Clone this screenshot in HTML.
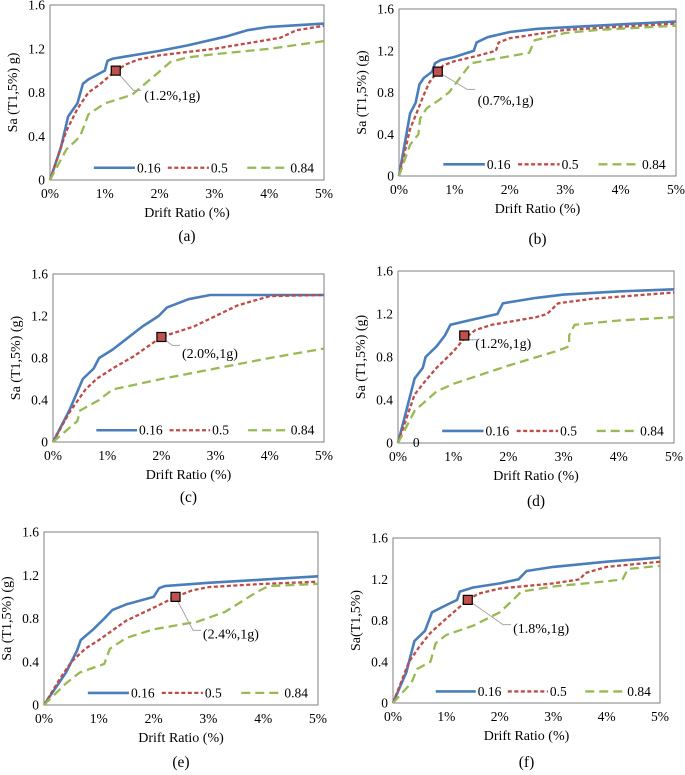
<!DOCTYPE html>
<html><head><meta charset="utf-8"><style>
body{margin:0;background:#fff;}
svg{display:block;}
svg text{font-family:"Liberation Serif","Times New Roman","DejaVu Serif",serif;}
</style></head><body>
<svg id="fig" width="685" height="775"></svg>
<script>
const ticksX=["0%","1%","2%","3%","4%","5%"];
const ticksY=[0,0.4,0.8,1.2,1.6];
const tickYLabels=["0","0.4","0.8","1.2","1.6"];
const legendLabels=["0.16","0.5","0.84"];

const a16=[[0,0],[0.2,0.3],[0.33,0.58],[0.4,0.63],[0.5,0.7],[0.6,0.88],[0.7,0.92],[1.0,1.0],[1.05,1.09],[1.15,1.11],[2.0,1.18],[2.5,1.23],[3.2,1.31],[3.6,1.37],[4.0,1.4],[5,1.43]];
const a50=[[0,0],[0.3,0.45],[0.5,0.65],[0.7,0.8],[0.9,0.87],[1.2,1.0],[1.4,1.06],[1.6,1.1],[2,1.14],[3,1.2],[4.2,1.3],[4.5,1.37],[5,1.41]];
const a84=[[0,0],[0.3,0.28],[0.45,0.35],[0.55,0.4],[0.7,0.6],[1.0,0.7],[1.5,0.78],[1.9,0.95],[2.2,1.08],[2.5,1.12],[3,1.15],[4,1.2],[5,1.27]];
const b16=[[0,0],[0.2,0.6],[0.3,0.7],[0.37,0.88],[0.45,0.94],[0.6,1.0],[0.65,1.08],[0.75,1.11],[1.0,1.14],[1.35,1.2],[1.4,1.28],[1.6,1.33],[2.0,1.38],[2.5,1.41],[5,1.48]];
const b50=[[0,0],[0.2,0.45],[0.3,0.58],[0.45,0.78],[0.55,0.9],[0.7,1.0],[0.8,1.06],[1.0,1.1],[1.4,1.15],[1.75,1.2],[1.8,1.28],[2.0,1.32],[3,1.4],[5,1.46]];
const b84=[[0,0],[0.2,0.3],[0.35,0.4],[0.38,0.55],[0.5,0.65],[0.7,0.72],[0.9,0.8],[1.3,1.08],[1.8,1.13],[2.35,1.18],[2.45,1.3],[3,1.37],[3.6,1.4],[5,1.44]];
const c16=[[0,0],[0.3,0.3],[0.55,0.6],[0.75,0.7],[0.85,0.8],[1.1,0.88],[1.4,1.0],[1.65,1.1],[1.95,1.2],[2.1,1.28],[2.5,1.36],[2.9,1.4],[5,1.4]];
const c50=[[0,0],[0.3,0.28],[0.6,0.5],[0.8,0.6],[1.1,0.7],[1.5,0.82],[2.0,1.0],[2.6,1.1],[3.0,1.2],[3.4,1.3],[4.0,1.39],[5,1.4]];
const c84=[[0,0],[0.45,0.2],[0.5,0.3],[0.85,0.4],[1.1,0.5],[2,0.6],[3,0.7],[4,0.8],[5,0.89]];
const d16=[[0,0],[0.3,0.6],[0.45,0.7],[0.5,0.8],[0.7,0.9],[0.85,1.0],[0.95,1.1],[1.2,1.13],[1.8,1.2],[1.9,1.3],[2.5,1.35],[3,1.38],[4,1.41],[5,1.43]];
const d50=[[0,0],[0.3,0.45],[0.5,0.58],[0.7,0.7],[1.0,0.85],[1.2,0.97],[1.4,1.05],[1.7,1.1],[2.5,1.17],[2.7,1.2],[2.9,1.3],[3.5,1.34],[4.5,1.38],[5,1.4]];
const d84=[[0,0],[0.3,0.3],[0.7,0.48],[1,0.55],[2,0.72],[2.9,0.86],[3.1,0.9],[3.1,1.0],[3.2,1.1],[4,1.14],[5,1.17]];
const e16=[[0,0],[0.4,0.3],[0.6,0.5],[0.67,0.6],[0.9,0.7],[1.1,0.8],[1.25,0.88],[1.5,0.93],[2.0,1.0],[2.1,1.08],[2.2,1.1],[3,1.13],[4,1.16],[5,1.19]];
const e50=[[0,0],[0.3,0.25],[0.5,0.4],[0.75,0.52],[1.0,0.6],[1.5,0.78],[2.0,0.9],[2.4,1.0],[2.7,1.06],[3,1.09],[4,1.12],[5,1.14]];
const e84=[[0,0],[0.4,0.2],[0.65,0.3],[1.1,0.38],[1.2,0.52],[1.5,0.62],[2,0.7],[2.8,0.77],[3.3,0.86],[3.9,1.05],[4.1,1.1],[5,1.12]];
const f16=[[0,0],[0.25,0.3],[0.4,0.6],[0.6,0.7],[0.73,0.88],[1.0,0.95],[1.2,1.0],[1.25,1.08],[1.5,1.12],[2,1.16],[2.35,1.2],[2.5,1.28],[3,1.32],[4,1.37],[5,1.41]];
const f50=[[0,0],[0.3,0.4],[0.5,0.55],[0.7,0.68],[1.0,0.82],[1.4,1.0],[1.6,1.06],[2.0,1.11],[3,1.16],[3.5,1.2],[3.6,1.26],[4,1.32],[5,1.37]];
const f84=[[0,0],[0.35,0.2],[0.45,0.33],[0.7,0.4],[0.8,0.58],[1.0,0.66],[1.5,0.75],[2,0.88],[2.25,1.0],[2.4,1.08],[3,1.13],[4,1.18],[4.3,1.2],[4.4,1.3],[5,1.33]];
const markerLabels=["(1.2%,1g)","(0.7%,1g)","(2.0%,1g)","(1.2%,1g)","(2.4%,1g)","(1.8%,1g)"];
const markerX=[1.2,0.7,2.0,1.2,2.4,1.4];
const calloutEnd=[[1.52,0.82],[1.23,0.83],[2.2,0.92],[1.3,0.96],[2.72,0.69],[2.06,0.76]];
const labelPos=[[1.72,0.77],[1.42,0.72],[2.38,0.84],[1.4,0.92],[2.9,0.65],[2.25,0.72]];

const panels=[
 {id:"a",x0:50,x5:324,yT:5,yB:180,cap:241,yt:"Sa (T1,5%) g)",s:[a16,a50,a84]},
 {id:"b",x0:399,x5:676,yT:9,yB:176,cap:244,yt:"Sa (T1,5%) (g)",s:[b16,b50,b84]},
 {id:"c",x0:53,x5:324,yT:274,yB:442,cap:502,yt:"Sa (T1,5%) (g)",s:[c16,c50,c84]},
 {id:"d",x0:398,x5:674,yT:271,yB:443,cap:506,yt:"Sa (T1,5%) (g)",s:[d16,d50,d84]},
 {id:"e",x0:44,x5:318,yT:532,yB:705,cap:767,yt:"Sa (T1,5%) (g)",s:[e16,e50,e84]},
 {id:"f",x0:393,x5:660,yT:538,yB:703,cap:767,yt:"Sa(T1,5%)",s:[f16,f50,f84]}
];
const colors=["#4a7ebb","#be4b48","#98b954"];
const dashes=["","4 2.5","9 5"];
const FONT='"Liberation Serif","Times New Roman","DejaVu Serif",serif';
const NS="http://www.w3.org/2000/svg";
const svg=document.getElementById("fig");
function mk(tag,attrs,parent,text){const e=document.createElementNS(NS,tag);for(const k in attrs)e.setAttribute(k,attrs[k]);if(text!==undefined){e.setAttribute("font-family",FONT);e.textContent=text;}parent.appendChild(e);return e;}

panels.forEach((p,pi)=>{
 const sx=v=>p.x0+(p.x5-p.x0)*v/5;
 const sy=v=>p.yB-(p.yB-p.yT)*v/1.6;
 const g=mk("g",{},svg);
 
 
 const fr=mk("rect",{x:p.x0,y:p.yT,width:p.x5-p.x0,height:p.yB-p.yT,fill:"none",stroke:"#7f7f7f","stroke-width":1},g);
 
 
 ticksY.forEach((v,i)=>{
  const t=mk("text",{x:p.x0-5,y:sy(v)+4.5,"text-anchor":"end","font-size":13.5,fill:"#000"},g,tickYLabels[i]);
  
  
 });
 ticksX.forEach((l,i)=>{
  const t=mk("text",{x:sx(i),y:p.yB+18,"text-anchor":"middle","font-size":13.5,fill:"#000"},g,l);
  
  
 });
 const xt=mk("text",{x:(p.x0+p.x5)/2,y:p.yB+37,"text-anchor":"middle","font-size":14},g,"Drift Ratio (%)");
 
 
 const cy=(p.yT+p.yB)/2;
 const yt=mk("text",{x:0,y:0,"text-anchor":"middle","font-size":14,transform:`translate(${p.x0-33},${cy}) rotate(-90)`},g,p.yt);
 
 
 const cap=mk("text",{x:(p.x0+p.x5)/2,y:p.cap,"text-anchor":"middle","font-size":15.5},g,"("+p.id+")");
 
 
 p.s.forEach((pts,si)=>{
  const d=pts.map((q,k)=>(k?"L":"M")+sx(q[0]).toFixed(1)+","+sy(q[1]).toFixed(1)).join(" ");
  const path=mk("path",{d:d,fill:"none",stroke:colors[si],"stroke-width":si?2.3:2.6,"stroke-dasharray":dashes[si],"stroke-linejoin":"round"},g);
  
  
 });
 if(pi===3){const z=mk("text",{x:sx(0.33),y:p.yB+4,"font-size":13.5,"text-anchor":"middle"},g,"0");
  
  }
 const w=p.x5-p.x0, ly=p.yB-(p.yB-p.yT)*0.07;
 const lx=[[0.16,0.31],[0.43,0.58],[0.72,0.87]];
 legendLabels.forEach((l,i)=>{
  const ln=mk("line",{x1:p.x0+w*lx[i][0],x2:p.x0+w*lx[i][1],y1:ly,y2:ly,stroke:colors[i],"stroke-width":i?2.3:2.6,"stroke-dasharray":dashes[i]},g);
  
  
  const lt=mk("text",{x:p.x0+w*lx[i][1]+2,y:ly+4.5,"font-size":13.5},g,l);
  
  
 });
 const mx=sx(markerX[pi]),my=sy(1.0);
 const ce=calloutEnd[pi];
 const cl=mk("polyline",{points:`${mx},${my} ${sx(ce[0])},${sy(ce[1])} ${sx(ce[0])+8},${sy(ce[1])}`,fill:"none",stroke:"#a6a6a6","stroke-width":1},g);
 
 
 const m=mk("rect",{x:mx-4.5,y:my-4.5,width:9,height:9,fill:"#c0504d",stroke:"#000","stroke-width":1.2},g);
 
 
 const lp=labelPos[pi];
 const ml=mk("text",{x:sx(lp[0]),y:sy(lp[1])+4,"font-size":14},g,markerLabels[pi]);
 
 
});
</script>
</body></html>
